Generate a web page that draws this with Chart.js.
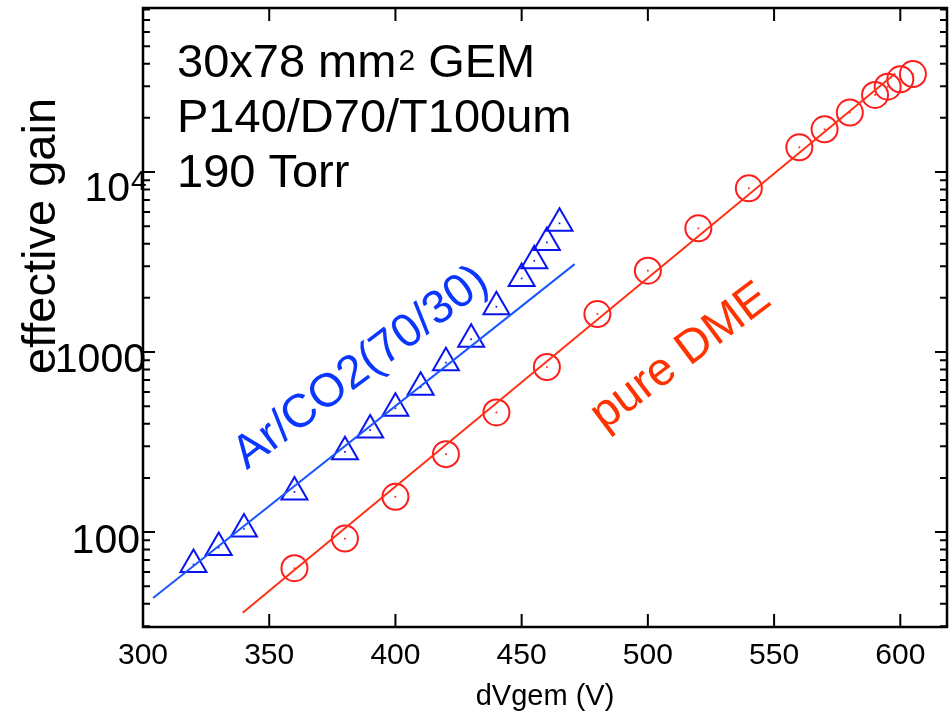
<!DOCTYPE html>
<html>
<head>
<meta charset="utf-8">
<script src="https://cdn.jsdelivr.net/npm/chart.js@4.4.0/dist/chart.umd.min.js"></script>
<style>
  html, body { margin: 0; padding: 0; background: #fff; overflow: hidden; }
  #wrap { width: 949px; height: 717px; position: relative; }
  canvas { display: block; }
</style>
</head>
<body>
<div id="wrap"><canvas id="gain"></canvas></div>
<script>
// Ar/CO2 (70/30) measurements
const arVolts = [320, 330, 340, 360, 380, 390, 400, 410, 420, 430, 440, 450, 455, 460, 465];
const arGain = [66, 82, 104, 167, 279, 369, 487, 637, 873, 1178, 1786, 2565, 3213, 4066, 5188];
// pure DME measurements
const dmeVolts = [360, 380, 400, 420, 440, 460, 480, 500, 520, 540, 560, 570, 580, 590, 595, 600, 605];
const dmeGain = [63, 92, 157, 271, 462, 826, 1626, 2833, 4866, 8120, 13720, 17260, 21400, 26800, 29780, 32740, 35000];
// exponential fits (end points)
const arFitVolts = [304, 471];
const arFitGain = [43, 3080];
const dmeFitVolts = [339.5, 598];
const dmeFitGain = [35.6, 35300];

const xTicks = [300, 350, 400, 450, 500, 550, 600];
const yLabels = [100, 1000, 10000];

const FONT = '"Liberation Sans", Arial, sans-serif';
const BLUE = '#0a14f0';
const BLUE_LINE = '#1a55ff';
const BLUE_TEXT = '#0a36ff';
const RED = '#ff1c1c';
const RED_LINE = '#ff3015';
const RED_TEXT = '#ff3300';

function pts(xs, ys) {
  return xs.map((v, i) => ({ x: v, y: ys[i] }));
}

// frame, inward ticks, y labels and text
const decorations = {
  id: 'decorations',
  afterDraw(chart) {
    const ctx = chart.ctx;
    const a = chart.chartArea;
    const xs = chart.scales.x;
    const ys = chart.scales.y;
    ctx.save();
    ctx.strokeStyle = '#000';
    ctx.lineWidth = 2.5;
    ctx.strokeRect(a.left, a.top, a.right - a.left, a.bottom - a.top);

    ctx.lineWidth = 2;
    ctx.beginPath();
    xTicks.forEach(v => {
      if (v <= xs.min) return;
      const px = xs.getPixelForValue(v);
      ctx.moveTo(px, a.bottom); ctx.lineTo(px, a.bottom - 13);
      ctx.moveTo(px, a.top); ctx.lineTo(px, a.top + 13);
    });
    for (let e = 1; e <= 4; e++) {
      for (let m = 1; m <= 9; m++) {
        const v = m * Math.pow(10, e);
        if (v < ys.min || v > ys.max) continue;
        const py = ys.getPixelForValue(v);
        const len = m === 1 ? 12 : 7;
        ctx.moveTo(a.left, py); ctx.lineTo(a.left + len, py);
        ctx.moveTo(a.right, py); ctx.lineTo(a.right - len, py);
      }
    }
    ctx.stroke();

    // y tick labels
    ctx.fillStyle = '#000';
    ctx.textBaseline = 'alphabetic';
    ctx.font = '41px ' + FONT;
    ctx.textAlign = 'right';
    ctx.fillText(String(yLabels[1]), a.left + 3, ys.getPixelForValue(yLabels[1]) + 20);
    ctx.fillText(String(yLabels[0]), a.left - 3, ys.getPixelForValue(yLabels[0]) + 21);
    const p4 = ys.getPixelForValue(yLabels[2]);
    ctx.fillText('10', a.left - 13, p4 + 29);
    ctx.font = '28px ' + FONT;
    ctx.textAlign = 'left';
    ctx.fillText('4', a.left - 12, p4 + 18);

    // y title
    ctx.save();
    ctx.translate(55, 236);
    ctx.rotate(-Math.PI / 2);
    ctx.textAlign = 'center';
    ctx.font = '47px ' + FONT;
    ctx.fillText('effective gain', 0, 0);
    ctx.restore();

    // info block
    ctx.textAlign = 'left';
    ctx.font = '47px ' + FONT;
    const tx = a.left + 34;
    ctx.fillText('30x78 mm', tx, 77);
    const w = ctx.measureText('30x78 mm').width;
    ctx.font = '30px ' + FONT;
    ctx.fillText('2', tx + w + 2, 70);
    const w2 = ctx.measureText('2').width;
    ctx.font = '47px ' + FONT;
    ctx.fillText(' GEM', tx + w + 2 + w2, 77);
    ctx.fillText('P140/D70/T100um', tx, 132);
    ctx.fillText('190 Torr', tx, 187);

    // rotated series labels
    const ang = -37 * Math.PI / 180;
    ctx.textAlign = 'center';
    ctx.textBaseline = 'middle';
    ctx.save();
    ctx.translate(xs.getPixelForValue(386.4), ys.getPixelForValue(815));
    ctx.rotate(ang);
    ctx.fillStyle = BLUE_TEXT;
    ctx.fillText('Ar/CO2(70/30)', 0, 0);
    ctx.restore();
    ctx.save();
    ctx.translate(xs.getPixelForValue(513), ys.getPixelForValue(938));
    ctx.rotate(ang);
    ctx.fillStyle = RED_TEXT;
    ctx.fillText('pure DME', 0, 0);
    ctx.restore();

    ctx.restore();
  }
};

new Chart(document.getElementById('gain'), {
  type: 'scatter',
  data: {
    datasets: [
      { data: pts(arFitVolts, arFitGain), showLine: true, borderColor: BLUE_LINE, borderWidth: 2, pointRadius: 0 },
      { data: pts(dmeFitVolts, dmeFitGain), showLine: true, borderColor: RED_LINE, borderWidth: 2, pointRadius: 0 },
      { data: pts(arVolts, arGain), pointStyle: 'triangle', pointRadius: 15, borderColor: BLUE, borderWidth: 2, backgroundColor: 'rgba(0,0,0,0)' },
      { data: pts(arVolts, arGain), pointStyle: 'rect', pointRadius: 1.2, borderWidth: 0, backgroundColor: BLUE },
      { data: pts(dmeVolts, dmeGain), pointStyle: 'circle', pointRadius: 13, borderColor: RED, borderWidth: 2, backgroundColor: 'rgba(0,0,0,0)' },
      { data: pts(dmeVolts, dmeGain), pointStyle: 'rect', pointRadius: 1.2, borderWidth: 0, backgroundColor: RED }
    ]
  },
  options: {
    responsive: true,
    maintainAspectRatio: false,
    animation: false,
    layout: { autoPadding: false, padding: { top: 8, right: 2, left: 0, bottom: 0 } },
    plugins: { legend: { display: false }, tooltip: { enabled: false } },
    scales: {
      x: {
        type: 'linear',
        min: 300,
        max: 618.5,
        afterBuildTicks: s => { s.ticks = xTicks.map(v => ({ value: v })); },
        afterFit: s => { s.height = 90; s.paddingLeft = 0; s.paddingRight = 0; },
        grid: { display: false, drawTicks: false },
        border: { display: false },
        ticks: { font: { size: 30, family: FONT }, color: '#000', padding: 11, maxRotation: 0, autoSkip: false },
        title: { display: true, text: 'dVgem (V)', font: { size: 29, family: FONT }, color: '#000', padding: { top: 0, bottom: 3 } }
      },
      y: {
        type: 'logarithmic',
        min: 29.7,
        max: 81500,
        afterFit: s => { s.width = 143; s.paddingTop = 0; s.paddingBottom = 0; },
        grid: { display: false, drawTicks: false },
        border: { display: false },
        ticks: { display: false }
      }
    }
  },
  plugins: [decorations]
});
</script>
</body>
</html>
